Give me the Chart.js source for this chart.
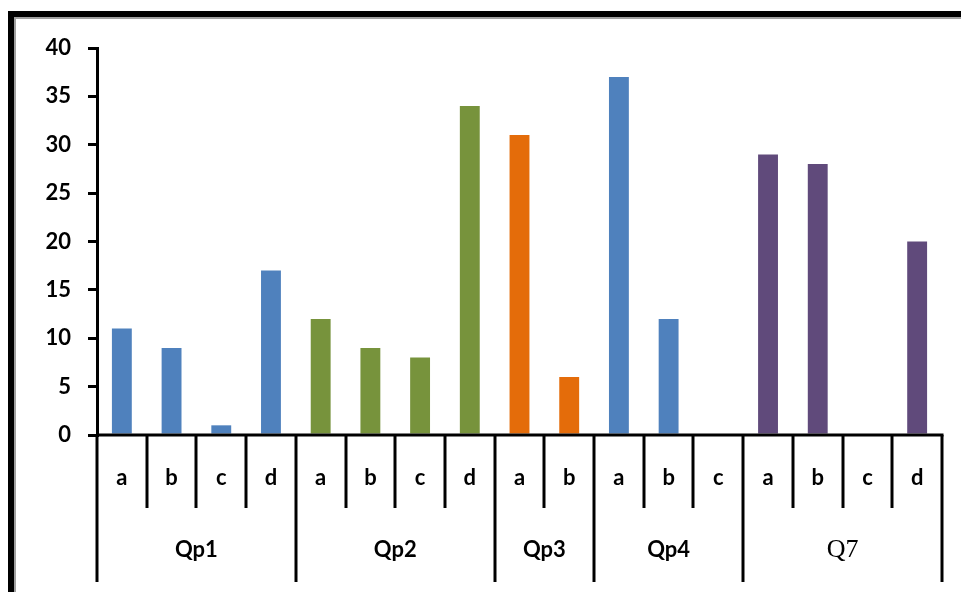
<!DOCTYPE html>
<html>
<head>
<meta charset="utf-8">
<script src="https://cdn.jsdelivr.net/npm/chart.js@4/dist/chart.umd.min.js"></script>
<style>
  html, body { margin: 0; padding: 0; background: #fff; }
  #wrap { width: 961px; height: 592px; }
</style>
</head>
<body>
<div id="wrap"><canvas id="chart" width="961" height="592"></canvas></div>
<script>
// question groups and the answer options under each
const groups = ["Qp1", "Qp2", "Qp3", "Qp4", "Q7"];
const qp1Items = ["a", "b", "c", "d"];
const qp2Items = ["a", "b", "c", "d"];
const qp3Items = ["a", "b"];
const qp4Items = ["a", "b", "c"];
const q7Items = ["a", "b", "c", "d"];

// counts per answer
const qp1Values = [11, 9, 1, 17];
const qp2Values = [12, 9, 8, 34];
const qp3Values = [31, 6];
const qp4Values = [37, 12, 0];
const q7Values = [29, 28, 0, 20];

const groupColors = ["#4F81BD", "#77933C", "#E46C0A", "#4F81BD", "#604A7B"];
const yTicks = [0, 5, 10, 15, 20, 25, 30, 35, 40];

const groupItems = [qp1Items, qp2Items, qp3Items, qp4Items, q7Items];
const groupValues = [qp1Values, qp2Values, qp3Values, qp4Values, q7Values];

// flatten into one category per bar
const labels = [];
const values = [];
const colors = [];
const groupSpans = []; // [firstIndex, lastIndex] for each group
groups.forEach((g, gi) => {
  const start = labels.length;
  groupItems[gi].forEach((item, i) => {
    labels.push(g + " " + item);
    values.push(groupValues[gi][i]);
    colors.push(groupColors[gi]);
  });
  groupSpans.push([start, labels.length - 1]);
});

const sansFamily = "Lato, 'Liberation Sans', Arial, sans-serif";
const sansBold = "bold 22px " + sansFamily;

// white page with the thick black frame on top and left
const framePlugin = {
  id: "frame",
  beforeDraw(chart) {
    const ctx = chart.ctx;
    ctx.save();
    ctx.fillStyle = "#fff";
    ctx.fillRect(0, 0, chart.width, chart.height);
    ctx.fillStyle = "#000";
    ctx.fillRect(8, 11, chart.width - 8, 6);
    ctx.fillRect(8, 11, 6, chart.height - 11);
    ctx.fillStyle = "#a0a0a0";
    ctx.fillRect(14, 17, chart.width - 14, 2);
    ctx.fillRect(14, 17, 2, chart.height - 17);
    ctx.restore();
  }
};

// two-level category axis: option letters, then question names
const groupAxisPlugin = {
  id: "groupAxis",
  afterDraw(chart) {
    const ctx = chart.ctx;
    const x = chart.scales.x;
    const y0 = chart.scales.y.getPixelForValue(0);
    const n = labels.length;
    const edge = i => {
      if (i <= 0) return x.left;
      if (i >= n) return x.right;
      return (x.getPixelForValue(i - 1) + x.getPixelForValue(i)) / 2;
    };
    const innerBottom = y0 + 73;
    const outerBottom = y0 + 147;

    ctx.save();
    ctx.strokeStyle = "#000";
    ctx.lineWidth = 3;
    ctx.lineCap = "butt";

    // axis line
    ctx.beginPath();
    ctx.moveTo(x.left, y0);
    ctx.lineTo(x.right + 1.5, y0);
    ctx.stroke();

    const groupStarts = groupSpans.map(s => s[0]);
    for (let i = 0; i <= n; i++) {
      const px = Math.round(edge(i));
      const isGroupEdge = i === n || groupStarts.includes(i);
      ctx.beginPath();
      ctx.moveTo(px, y0);
      ctx.lineTo(px, isGroupEdge ? outerBottom : innerBottom);
      ctx.stroke();
    }

    ctx.fillStyle = "#000";
    ctx.textAlign = "center";
    ctx.textBaseline = "middle";
    ctx.font = sansBold;
    labels.forEach((lab, i) => {
      ctx.fillText(lab.split(" ")[1], x.getPixelForValue(i), y0 + 43);
    });

    groupSpans.forEach((s, gi) => {
      const cx = (edge(s[0]) + edge(s[1] + 1)) / 2;
      if (groups[gi] === "Q7") {
        ctx.font = "26px 'Liberation Serif', 'Times New Roman', serif";
      } else {
        ctx.font = sansBold;
      }
      ctx.fillText(groups[gi], cx, y0 + 115);
    });
    ctx.restore();
  }
};

new Chart(document.getElementById("chart"), {
  type: "bar",
  data: {
    labels,
    datasets: [
      {
        data: values,
        backgroundColor: colors,
        borderWidth: 0,
        barPercentage: 0.4,
        categoryPercentage: 1.0,
      },
    ],
  },
  options: {
    responsive: false,
    animation: false,
    layout: { padding: { top: 48, right: 19, bottom: 157, left: 0 } },
    plugins: { legend: { display: false }, tooltip: { enabled: false } },
    scales: {
      x: { display: false },
      y: {
        min: 0,
        max: 40,
        afterFit(scale) { scale.width = 97; },
        afterBuildTicks(scale) { scale.ticks = yTicks.map(v => ({ value: v })); },
        ticks: {
          color: "#000",
          padding: 17,
          font: { family: sansFamily, size: 22, weight: "bold" },
        },
        grid: {
          drawOnChartArea: false,
          drawTicks: true,
          tickLength: 9,
          color: "#000",
          lineWidth: 3,
        },
        border: { display: true, color: "#000", width: 3 },
      },
    },
  },
  plugins: [framePlugin, groupAxisPlugin],
});
</script>
</body>
</html>
